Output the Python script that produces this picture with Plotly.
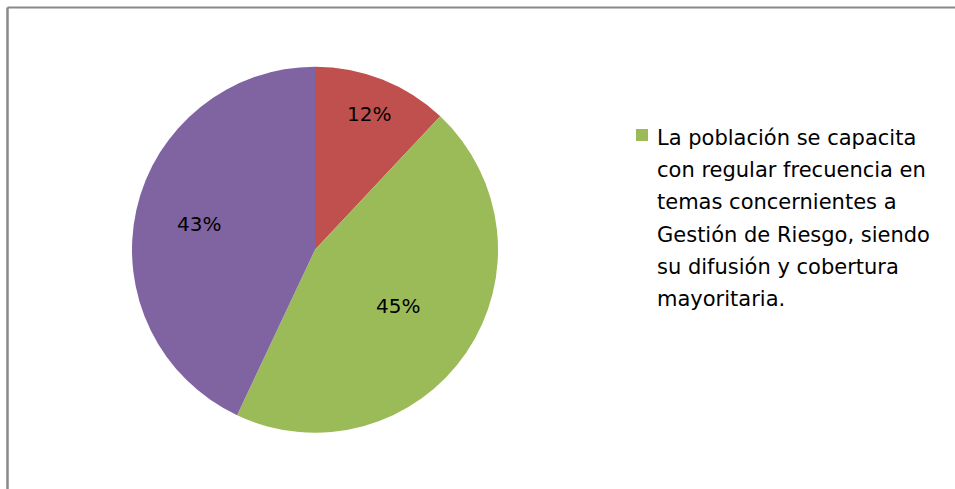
import math
import plotly.graph_objects as go

# Survey answers and their shares (%)
labels = [
    "Baja capacitación",
    "La población se capacita con regular frecuencia en temas concernientes a Gestión de Riesgo, siendo su difusión y cobertura mayoritaria.",
    "Capacitación escasa",
]
values = [12, 45, 43]
colors = ["#C0504D", "#9BBB59", "#8064A2"]

# Legend text for the highlighted answer, one entry per printed line
legend_lines = [
    "La población se capacita",
    "con regular frecuencia en",
    "temas concernientes a",
    "Gestión de Riesgo, siendo",
    "su difusión y cobertura",
    "mayoritaria.",
]
legend_index = 1

# Radial placement of each percentage label, as a fraction of the radius
label_radius = [0.80, 0.55, 0.65]

W, H = 955, 489
FONT = "DejaVu Sans"
CX, CY, R = 315, 249.7, 183  # pie centre and radius in pixels

fig = go.Figure()
fig.add_trace(go.Pie(
    labels=labels,
    values=values,
    sort=False,
    direction="clockwise",
    rotation=0,
    marker=dict(colors=colors, line=dict(width=0)),
    textinfo="none",
    showlegend=False,
    hoverinfo="label+percent",
    domain=dict(x=[(CX - R) / W, (CX + R) / W],
                y=[(H - CY - R) / H, (H - CY + R) / H]),
))

# Percentage labels placed at each slice's mid-angle
total = sum(values)
cum = 0
for v, rf in zip(values, label_radius):
    mid = 2 * math.pi * (cum + v / 2) / total
    cum += v
    px = CX + rf * R * math.sin(mid)
    py = CY - rf * R * math.cos(mid)
    fig.add_annotation(
        xref="paper", yref="paper",
        x=px / W, y=1 - py / H,
        xanchor="center", yanchor="middle",
        text=f"{round(100 * v / total)}%", showarrow=False,
        font=dict(family=FONT, size=20, color="#000000"),
    )

# Legend marker and wrapped text
sq = 12
lx, ly = 636, 129
fig.add_shape(type="rect", xref="paper", yref="paper",
              x0=lx / W, x1=(lx + sq) / W,
              y0=1 - (ly + sq) / H, y1=1 - ly / H,
              fillcolor=colors[legend_index], line=dict(width=0))
line_step = 32.2
for i, txt in enumerate(legend_lines):
    fig.add_annotation(
        xref="paper", yref="paper",
        x=655 / W, y=1 - (138 + i * line_step) / H,
        xanchor="left", yanchor="middle",
        text=txt, showarrow=False,
        font=dict(family=FONT, size=21, color="#000000"),
    )

# Chart frame (top and left edges visible)
fig.add_shape(type="line", xref="paper", yref="paper",
              x0=7.5 / W, x1=1.01, y0=1 - 7.5 / H, y1=1 - 7.5 / H,
              line=dict(color="#888888", width=2))
fig.add_shape(type="line", xref="paper", yref="paper",
              x0=7.5 / W, x1=7.5 / W, y0=1 - 7.5 / H, y1=-0.01,
              line=dict(color="#888888", width=2.5))

fig.update_layout(
    width=W, height=H,
    margin=dict(l=0, r=0, t=0, b=0),
    paper_bgcolor="#FFFFFF",
    plot_bgcolor="#FFFFFF",
)

fig.write_html("out.html")
